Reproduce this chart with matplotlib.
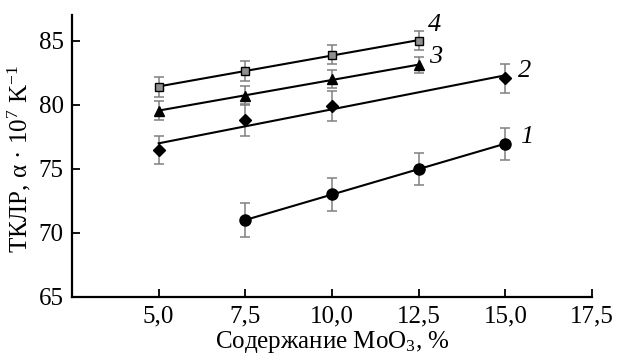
import numpy as np
import matplotlib.pyplot as plt

plt.rcParams['font.family'] = ['Liberation Serif', 'DejaVu Serif']
plt.rcParams['mathtext.fontset'] = 'custom'
plt.rcParams['mathtext.rm'] = 'Liberation Serif'
plt.rcParams['mathtext.it'] = 'Liberation Serif:italic'

# данные
x1 = [7.5, 10.0, 12.5, 15.0]
y1 = [71.0, 73.0, 75.0, 76.95]
e1 = [1.3, 1.3, 1.25, 1.25]

x2 = [5.0, 7.5, 10.0, 15.0]
y2 = [76.5, 78.8, 79.9, 82.05]
e2 = [1.1, 1.25, 1.15, 1.15]

x3 = [5.0, 7.5, 10.0, 12.5]
y3 = [79.55, 80.7, 82.0, 83.1]
e3 = [0.75, 0.75, 0.7, 0.65]

x4 = [5.0, 7.5, 10.0, 12.5]
y4 = [81.4, 82.65, 83.9, 85.0]
e4 = [0.8, 0.8, 0.75, 0.75]

labels = ['1', '2', '3', '4']
xticks = [5.0, 7.5, 10.0, 12.5, 15.0, 17.5]
yticks = [65, 70, 75, 80, 85]

fig = plt.figure(figsize=(6.17, 3.58), dpi=100)
ax = fig.add_axes([0.1167, 0.1704, 0.8428, 0.7876])

series = [
    (x1, y1, e1, 'o', 'black', 8),
    (x2, y2, e2, 'D', 'black', 6),
    (x3, y3, e3, '^', 'black', 7),
    (x4, y4, e4, 's', '#909090', 6),
]
label_pos = [(15.42, 77.5), (15.36, 82.65), (12.8, 83.75), (12.77, 86.25)]

for (x, y, e, m, fc, ms), lab, (lx, ly) in zip(series, labels, label_pos):
    x = np.array(x); y = np.array(y)
    k, b = np.polyfit(x, y, 1)
    ax.plot([x[0], x[-1]], [k*x[0]+b, k*x[-1]+b], color='black', lw=1.5, zorder=2)
    ax.errorbar(x, y, yerr=e, fmt='none', ecolor='#808080', elinewidth=1.1,
                capsize=3.5, capthick=1.1, zorder=1)
    ax.plot(x, y, ls='none', marker=m, ms=ms, mfc=fc, mec='black', mew=1.0, zorder=3)
    ax.text(lx, ly, lab, fontsize=19, style='italic', ha='left', va='center')

ax.set_xlim(2.5, 17.5)
ax.set_ylim(65, 87)
ax.set_xticks(xticks)
ax.set_xticklabels([('%.1f' % t).replace('.', ',') for t in xticks])
ax.set_yticks(yticks)
ax.tick_params(direction='in', length=6, width=1.3, labelsize=18)
ax.tick_params(axis='x', pad=6)
ax.tick_params(axis='y', pad=6)
ax.spines['top'].set_visible(False)
ax.spines['right'].set_visible(False)
for s in ['left', 'bottom']:
    ax.spines[s].set_linewidth(1.6)

ax.set_xlabel('Содержание MoO$_3$, %', fontsize=18, labelpad=1)
ax.set_ylabel('ТКЛР, α · 10$^7$ K$^{-1}$', fontsize=18)
ax.yaxis.set_label_coords(-0.075, 0.49)

fig.savefig('out.png', dpi=100)
